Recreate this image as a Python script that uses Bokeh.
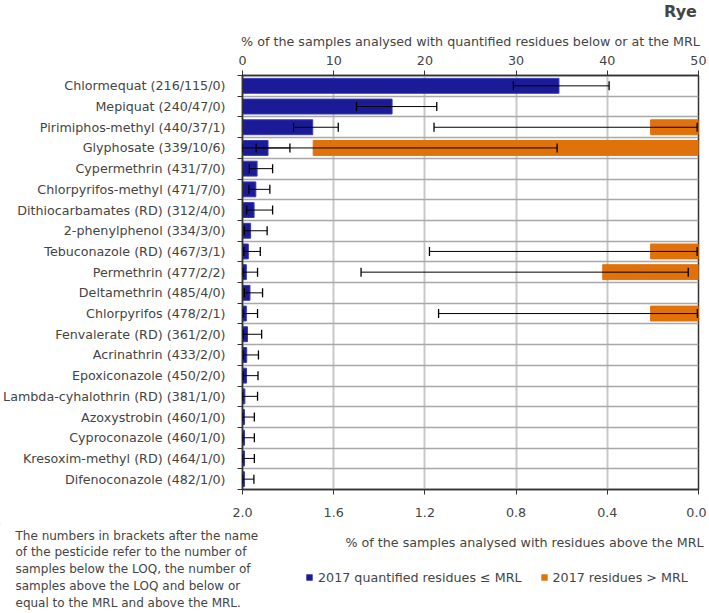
from bokeh.plotting import figure
from bokeh.layouts import column
from bokeh.models import (Range1d, LinearAxis, FixedTicker, ColumnDataSource, Whisker,
                          TeeHead, Label, Legend, LegendItem, PrintfTickFormatter)
from bokeh.embed import file_html
from bokeh.resources import INLINE

pesticides = [
    "Chlormequat (216/115/0)", "Mepiquat (240/47/0)", "Pirimiphos-methyl (440/37/1)",
    "Glyphosate (339/10/6)", "Cypermethrin (431/7/0)", "Chlorpyrifos-methyl (471/7/0)",
    "Dithiocarbamates (RD) (312/4/0)", "2-phenylphenol (334/3/0)", "Tebuconazole (RD) (467/3/1)",
    "Permethrin (477/2/2)", "Deltamethrin (485/4/0)", "Chlorpyrifos (478/2/1)",
    "Fenvalerate (RD) (361/2/0)", "Acrinathrin (433/2/0)", "Epoxiconazole (450/2/0)",
    "Lambda-cyhalothrin (RD) (381/1/0)", "Azoxystrobin (460/1/0)", "Cyproconazole (460/1/0)",
    "Kresoxim-methyl (RD) (464/1/0)", "Difenoconazole (482/1/0)",
]
# % of samples with quantified residues <= MRL (top axis) and error-bar limits
quantified = [34.7, 16.4, 7.7, 2.8, 1.6, 1.46, 1.27, 0.89, 0.64, 0.42, 0.82, 0.42,
              0.55, 0.46, 0.44, 0.26, 0.22, 0.22, 0.22, 0.21]
quant_low = [29.7, 12.5, 5.6, 1.5, 0.75, 0.7, 0.45, 0.2, 0.15, 0.05, 0.2, 0.05,
             0.07, 0.06, 0.05, 0.01, 0.01, 0.01, 0.01, 0.01]
quant_high = [40.2, 21.3, 10.5, 5.2, 3.3, 3.0, 3.3, 2.7, 1.95, 1.65, 2.2, 1.65,
              2.1, 1.75, 1.7, 1.65, 1.3, 1.3, 1.3, 1.25]
# % of samples with residues > MRL (bottom axis, reversed) and error-bar limits
above = [0, 0, 0.21, 1.69, 0, 0, 0, 0, 0.21, 0.42, 0, 0.21, 0, 0, 0, 0, 0, 0, 0, 0]
above_low = [0, 0, 0.006, 0.62, 0, 0, 0, 0, 0.006, 0.045, 0, 0.005, 0, 0, 0, 0, 0, 0, 0, 0]
above_high = [0, 0, 1.16, 2.0, 0, 0, 0, 0, 1.18, 1.48, 0, 1.14, 0, 0, 0, 0, 0, 0, 0, 0]

top_ticks = [0, 10, 20, 30, 40, 50]
bottom_ticks = [2.0, 1.6, 1.2, 0.8, 0.4, 0.0]

BLUE = "#1b1b98"
ORANGE = "#e1720b"
FONT = "DejaVu Sans"
W = 706

N = len(pesticides)
ys = [i + 0.5 for i in range(N)]


def blank(h):
    f = figure(width=W, height=h, output_backend="svg", toolbar_location=None,
               x_range=Range1d(0, W), y_range=Range1d(h, 0),
               x_axis_location=None, y_axis_location=None, min_border=0)
    f.frame_align = False
    f.outline_line_color = None
    f.xgrid.visible = False
    f.ygrid.visible = False
    return f


# ---------- title strip ----------
p0 = blank(24)
p0.add_layout(Label(x=680, y=11, text="Rye", text_align="center", text_baseline="middle",
                    text_font=FONT, text_font_style="bold", text_font_size="16px"))

# ---------- main chart ----------
p = figure(width=W, height=500, output_backend="svg", toolbar_location=None,
           x_range=Range1d(0, 50), y_range=Range1d(N, 0), x_axis_location="above",
           min_border_left=238, min_border_right=8, min_border_top=51, min_border_bottom=35)
p.frame_align = False
p.extra_x_ranges = {"mrl": Range1d(2.0, 0.0)}
p.outline_line_color = "#333333"
p.outline_line_width = 1.5

src_b = ColumnDataSource(dict(y=ys, right=quantified, low=quant_low, high=quant_high))
p.hbar(y="y", left=0, right="right", height=0.72, source=src_b,
       fill_color=BLUE, line_color="#3a3ab4", line_width=1)

idx = [i for i in range(N) if above[i] > 0]
src_o = ColumnDataSource(dict(y=[ys[i] for i in idx], left=[above[i] for i in idx],
                              low=[above_low[i] for i in idx], high=[above_high[i] for i in idx]))
p.hbar(y="y", left="left", right=0, height=0.72, source=src_o, x_range_name="mrl",
       fill_color=ORANGE, line_color=ORANGE, line_width=1)


def head():
    return TeeHead(size=9, line_color="black", line_width=1.3)


p.add_layout(Whisker(source=src_b, base="y", lower="low", upper="high", dimension="width",
                     line_color="black", line_width=1, upper_head=head(), lower_head=head(),
                     level="overlay"))
p.add_layout(Whisker(source=src_o, base="y", lower="low", upper="high", dimension="width",
                     x_range_name="mrl", line_color="black", line_width=1,
                     upper_head=head(), lower_head=head(), level="overlay"))

ax = p.xaxis[0]
ax.ticker = FixedTicker(ticks=top_ticks)
ax.axis_label = "% of the samples analysed with quantified residues below or at the MRL"
ax.axis_label_text_font = FONT
ax.axis_label_text_font_style = "normal"
ax.axis_label_text_font_size = "12.7px"
ax.axis_label_standoff = 4
ax.major_label_text_font = FONT
ax.major_label_text_font_size = "12.7px"
ax.major_label_standoff = 6
ax.major_tick_out = 5
ax.major_tick_in = 0
ax.minor_tick_out = 0
ax.minor_tick_in = 0
ax.axis_line_color = "#333333"
ax.axis_line_width = 1.5
ax.major_tick_line_color = "#333333"

bx = LinearAxis(x_range_name="mrl", ticker=FixedTicker(ticks=bottom_ticks),
                formatter=PrintfTickFormatter(format="%.1f"))
bx.major_label_text_font = FONT
bx.major_label_text_font_size = "12.7px"
bx.major_label_standoff = 13
bx.major_tick_out = 5
bx.major_tick_in = 0
bx.axis_line_color = "#333333"
bx.axis_line_width = 1.5
bx.major_tick_line_color = "#333333"
p.add_layout(bx, "below")

ly = p.yaxis[0]
ly.ticker = FixedTicker(ticks=ys, minor_ticks=list(range(N + 1)))
ly.major_label_overrides = {y: name for y, name in zip(ys, pesticides)}
ly.major_label_text_font = FONT
ly.major_label_text_font_size = "12.7px"
ly.major_label_standoff = 12
ly.major_tick_out = 0
ly.major_tick_in = 0
ly.minor_tick_out = 5
ly.minor_tick_in = 0
ly.minor_tick_line_color = "#333333"
ly.axis_line_color = "#333333"
ly.axis_line_width = 1.5

p.xgrid.grid_line_color = "#c8c8c8"
p.xgrid.grid_line_width = 2
p.ygrid.ticker = FixedTicker(ticks=list(range(N + 1)))
p.ygrid.grid_line_color = "#a8a8a8"
p.ygrid.grid_line_width = 1.5

# ---------- bottom strip: axis title, footnote, legend ----------
p2 = blank(88)
p2.add_layout(Label(x=524, y=18, text="% of the samples analysed with residues above the MRL",
                    text_align="center", text_baseline="middle", text_font=FONT,
                    text_font_size="12.7px"))
foot = ("The numbers in brackets after the name\nof the pesticide refer to the number of\n"
        "samples below the LOQ, the number of\nsamples above the LOQ and below or\n"
        "equal to the MRL and above the MRL.")
p2.add_layout(Label(x=15, y=4, text=foot, text_align="left", text_baseline="top",
                    text_font=FONT, text_font_size="12px", text_line_height=1.2))
# legend swatches: renderers sharing the bar styling, placed outside this strip's view
swatch = ColumnDataSource(dict(y=[-500], left=[-500], right=[-499]))
lb = p2.hbar(y="y", left="left", right="right", height=1, source=swatch,
             fill_color=BLUE, line_color=None)
lo = p2.hbar(y="y", left="left", right="right", height=1, source=swatch,
             fill_color=ORANGE, line_color=None)
legend = Legend(items=[LegendItem(label="2017 quantified residues \u2264 MRL", renderers=[lb], index=0),
                       LegendItem(label="2017 residues > MRL", renderers=[lo], index=0)],
                orientation="horizontal", location=(305, 27), padding=0, margin=0,
                spacing=18, label_standoff=5, glyph_width=8, glyph_height=8, label_height=16,
                label_text_font=FONT, label_text_font_size="12.7px",
                border_line_color=None, background_fill_alpha=0)
p2.add_layout(legend)

layout = column(p0, p, p2, spacing=0)
open("out.html", "w").write(file_html(layout, INLINE))
